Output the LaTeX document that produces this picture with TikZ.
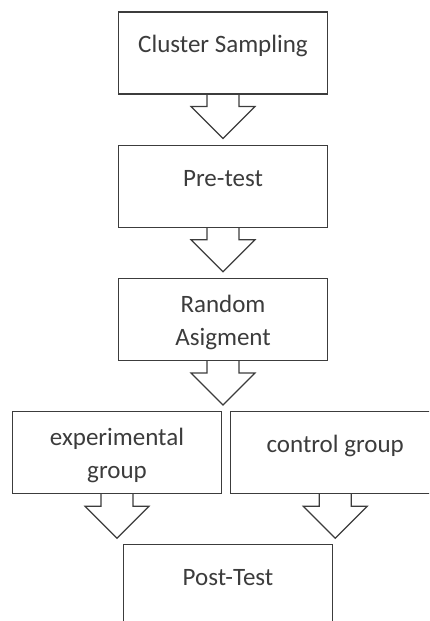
\documentclass[tikz,border=0pt]{standalone}
\usepackage{fontspec}
\setmainfont{Carlito}
\usepackage{tikz}
\usetikzlibrary{positioning, calc}
\definecolor{boxgray}{RGB}{60,60,60}
\newcommand{\blockarrow}[2]{%
  \draw[boxgray, line width=1.2pt] ($(#1.south)+(-16pt,0)$) -- ++(0,-12pt) -- ++(-16pt,0)
    -- ($(#1.south |- #2.north)+(0,6pt)$)
    -- ($(#1.south)+(32pt,-12pt)$) -- ++(-16pt,0) -- ++(0,12pt);
}
\begin{document}
\begin{tikzpicture}[x=1pt, y=1pt,
    onebox/.style={draw=boxgray, line width=1.2pt, text=boxgray, minimum width=209pt, inner sep=0pt, align=center, font=\fontsize{25}{33}\selectfont, text height=41pt, text depth=41pt},
    twobox/.style={onebox, text height=67pt, text depth=15pt}]
    \useasboundingbox (0,0) rectangle (429,621);
    \clip (0,0) rectangle (429,621);
    \node[onebox] (cluster) at (223,568) {Cluster Sampling};
    \node[onebox, below=50pt of cluster] (pretest) {Pre-test};
    \node[twobox, below=50pt of pretest] (random) {Random\\Asigment};
    \node[twobox, below=50pt of random, xshift=-106pt] (exper) {experimental\\group};
    \node[onebox, right=8pt of exper] (control) {control group};
    \node[onebox, below=50pt of exper, xshift=111pt] (post) {Post-Test};

    \blockarrow{cluster}{pretest}
    \blockarrow{pretest}{random}
    \blockarrow{random}{exper}
    \blockarrow{exper}{post}
    \blockarrow{control}{post}
\end{tikzpicture}
\end{document}
